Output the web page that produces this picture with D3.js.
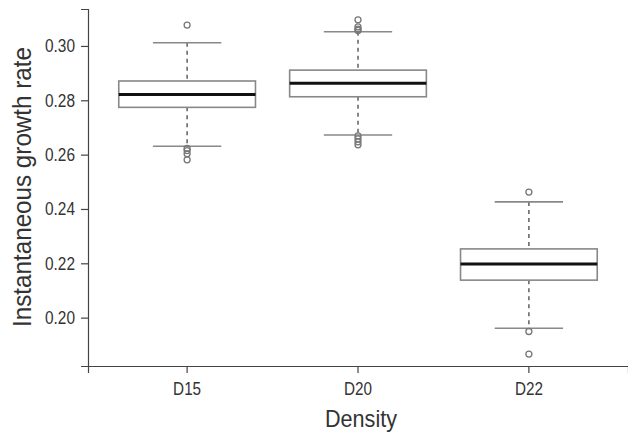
<!DOCTYPE html>
<html>
<head>
<meta charset="utf-8">
<script src="https://cdn.jsdelivr.net/npm/d3@7"></script>
<style>
  body { margin: 0; background: #fff; }
  svg text { font-family: "Liberation Sans Narrow", "Arial Narrow", "Liberation Sans", sans-serif; fill: #333; }
</style>
</head>
<body>
<div id="chart"></div>
<script>
const categories = ["D15", "D20", "D22"]
const whiskerLow  = [0.2631, 0.2672, 0.1961]
const q1          = [0.2774, 0.2813, 0.2138]
const median      = [0.2821, 0.2863, 0.2197]
const q3          = [0.2871, 0.2911, 0.2253]
const whiskerHigh = [0.3012, 0.3052, 0.2426]
const outliers = [
  [0.3077, 0.2623, 0.2615, 0.2603, 0.2581],
  [0.3096, 0.3070, 0.3062, 0.3057, 0.2669, 0.2658, 0.2647, 0.2636],
  [0.2462, 0.1949, 0.1866]
]
const yTicks = [0.20, 0.22, 0.24, 0.26, 0.28, 0.30]

const width = 628, height = 434

const svg = d3.select("#chart").append("svg")
  .attr("width", width)
  .attr("height", height)

const x = d3.scaleBand()
  .domain(categories)
  .range([88, 628])
  .paddingInner(0.2)
  .paddingOuter(0.18)

const y = d3.scaleLinear()
  .domain([0.1822, 0.3136])
  .range([366, 9])

const boxes = categories.map((c, i) => ({
  cat: c, lo: whiskerLow[i], q1: q1[i], med: median[i], q3: q3[i], hi: whiskerHigh[i], out: outliers[i]
}))

const g = svg.selectAll("g.box")
  .data(boxes)
  .enter()
  .append("g")
  .attr("class", "box")

const cx = d => x(d.cat) + x.bandwidth() / 2
const bw = x.bandwidth()

// dashed stems
g.append("line")
  .attr("x1", cx).attr("x2", cx)
  .attr("y1", d => y(d.hi)).attr("y2", d => y(d.q3))
  .attr("stroke", "#555").attr("stroke-width", 1.4).attr("stroke-dasharray", "4,4")
g.append("line")
  .attr("x1", cx).attr("x2", cx)
  .attr("y1", d => y(d.q1)).attr("y2", d => y(d.lo))
  .attr("stroke", "#555").attr("stroke-width", 1.4).attr("stroke-dasharray", "4,4")

// whisker caps
g.selectAll("line.cap")
  .data(d => [d.lo, d.hi].map(v => ({ v: v, d: d })))
  .enter()
  .append("line")
  .attr("class", "cap")
  .attr("x1", e => cx(e.d) - bw / 4).attr("x2", e => cx(e.d) + bw / 4)
  .attr("y1", e => y(e.v)).attr("y2", e => y(e.v))
  .attr("stroke", "#888").attr("stroke-width", 1.6)

// box
g.append("rect")
  .attr("x", d => x(d.cat))
  .attr("width", bw)
  .attr("y", d => y(d.q3))
  .attr("height", d => y(d.q1) - y(d.q3))
  .attr("fill", "#fff")
  .attr("stroke", "#888").attr("stroke-width", 1.6)

// median
g.append("line")
  .attr("x1", d => x(d.cat)).attr("x2", d => x(d.cat) + bw)
  .attr("y1", d => y(d.med)).attr("y2", d => y(d.med))
  .attr("stroke", "#111").attr("stroke-width", 3)

// outliers
g.selectAll("circle")
  .data(d => d.out.map(v => ({ v: v, d: d })))
  .enter()
  .append("circle")
  .attr("cx", e => cx(e.d))
  .attr("cy", e => y(e.v))
  .attr("r", 3)
  .attr("fill", "none")
  .attr("stroke", "#777").attr("stroke-width", 1.3)

// no narrow face installed, so fit the text to the width it has in the original
function fit(sel, len) {
  sel.attr("textLength", len).attr("lengthAdjust", "spacingAndGlyphs")
}

// axes
const yAxis = svg.append("g")
  .attr("transform", "translate(88,0)")
  .call(d3.axisLeft(y).tickValues(yTicks).tickFormat(d3.format(".2f")).tickSizeOuter(0).tickSize(7).tickPadding(6))
yAxis.selectAll("text").style("font-size", "18px").call(fit, 30)

const xAxis = svg.append("g")
  .attr("transform", "translate(0,366)")
  .call(d3.axisBottom(x).tickSizeOuter(0).tickSize(7).tickPadding(9))
xAxis.selectAll("text").style("font-size", "18px").call(fit, 28)

svg.selectAll(".domain, .tick line").attr("stroke", "#444").attr("stroke-width", 1.2)

svg.append("text")
  .attr("x", 361)
  .attr("y", 427)
  .attr("text-anchor", "middle")
  .style("font-size", "24px")
  .text("Density")
  .call(fit, 72)

svg.append("text")
  .attr("transform", "translate(31,187) rotate(-90)")
  .attr("text-anchor", "middle")
  .style("font-size", "25px")
  .text("Instantaneous growth rate")
  .call(fit, 280)
</script>
</body>
</html>
